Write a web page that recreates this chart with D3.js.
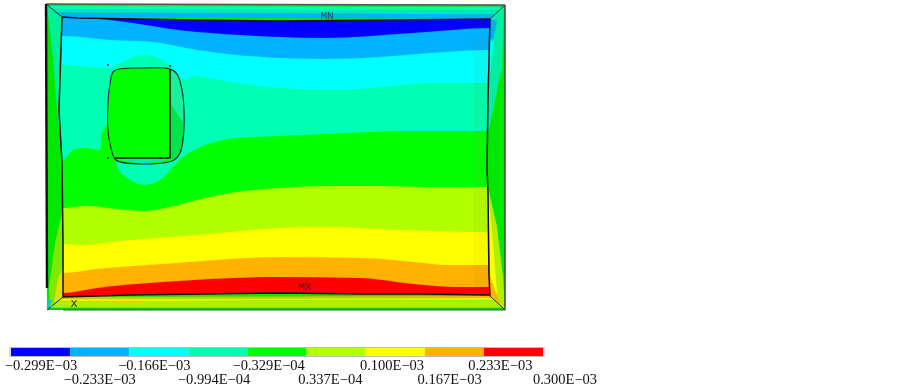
<!DOCTYPE html>
<html>
<head>
<meta charset="utf-8">
<script src="https://cdn.jsdelivr.net/npm/d3@7"></script>
<style>
  html, body { margin: 0; padding: 0; background: #fff; }
  svg { display: block; filter: blur(0.3px); }
</style>
</head>
<body>
<div id="vis-holder"></div>
<script>
// contour levels, low to high
let LEVEL_COLORS = ["#0000ff","#00b2ff","#00ffff","#00ffb2","#00ff00","#b2ff00","#ffff00","#ffb200","#ff0000"]
let ROW_ONE = ["\u22120.299E\u221203","\u22120.166E\u221203","\u22120.329E\u221204","0.100E\u221203","0.233E\u221203"]
let ROW_TWO = ["\u22120.233E\u221203","\u22120.994E\u221204","0.337E\u221204","0.167E\u221203","0.300E\u221203"]
// small horizontal shifts of the colour bar labels
let ROW_ONE_NUDGE = [0,-4,-7,-1,-10]
let ROW_TWO_NUDGE = [0,-3,-4,-2,-4]

// contour boundaries, [x, y] from the plate's top left corner
let level0to1 = [[0,0],[15,0],[134,14],[217,19],[259,20],[350,15],[427,10]]
let level1to2 = [[0,18],[47,22],[90,24],[134,32],[217,40],[260,41],[317,39],[367,35],[427,32]]
let level2to3 = [[0,47],[47,50],[57,45],[80,37],[107,47],[122,62],[130,58],[167,64],[217,70],[274,72],[317,69],[367,65],[427,65]]
let level3to4 = [[0,142],[10,132],[22,130],[37,132],[39,115],[45,107],[54,149],[64,160],[82,167],[100,160],[110,149],[120,139],[174,120],[217,118],[284,115],[350,113],[427,113]]
let level4to5 = [[0,190],[24,188],[54,191],[82,193],[107,189],[134,182],[167,175],[217,170],[267,168],[317,168],[367,169],[427,169]]
let level5to6 = [[0,226],[17,227],[67,222],[134,217],[217,210],[260,209],[317,211],[367,213],[427,214]]
let level6to7 = [[0,255],[34,251],[100,246],[217,239],[300,240],[350,244],[384,247],[427,247]]
let level7to8 = [[0,275],[34,270],[100,264],[217,259],[297,260],[350,266],[394,269],[427,269]]

// deformed outline of the plate and of the opening
let plateEdge = [[-1,-1],[15,0],[134,2],[217,3],[327,2],[427,1],[425,82],[424,149],[425,175],[426,259],[427,277],[360,276],[300,276],[217,275],[67,277],[0,279],[0,225],[-1,145],[-4,92]]
let holeEdge = [[51,53],[80,50],[107,51],[114,56],[119,72],[121,92],[120,122],[117,135],[111,142],[80,146],[53,142],[48,130],[45,112],[45,85],[47,66]]
let holeSide = [[107,51],[107,140]]
let holeBottom = [[51,140],[107,140]]
let holeSliverTop = [[107,51],[114,56],[119,72],[121,92],[120,105],[107,85]]
let holeSliverLow = [[107,85],[120,105],[120,122],[117,135],[111,142],[107,141]]
let holeSliverFoot = [[53,141],[111,141],[80,146]]
let holeDots = [[45,47],[107,48],[45,140]]

// the sloped frame round the plate
let outerCorners = [[-17,-14],[442,-13],[442,292],[-16,292]]
let innerCorners = [[-1,-1],[427,1],[427,278],[0,279]]
let topStops = [0,0.16,0.4,0.66,1]
let topLevels = ["#00e84a","#00ffb2","#00e6c4","#00b2ff"]
let bottomStops = [0,0.14,0.32,0.8,1]
let bottomLevels = ["#ffb200","#f4ee00","#b2ee00","#9fe800"]
let leftTeal = [[-16,-13],[-1,-1],[-3,60],[-4,92],[-2,135],[-6,90],[-10,40]]
let leftLime = [[0,190],[0,279],[-13,289],[-14,270],[-8,225]]
let leftOrange = [[0,250],[0,279],[-9,285],[-5,260]]
let rightTeal = [[441,-13],[427,1],[425,82],[425,115],[430,92],[439,49]]
let rightCyan = [[427,1],[432,14],[426,65],[425,65]]
let rightBlue = [[427,1],[434,3],[430,24],[427,20]]
let rightLime = [[425,169],[434,209],[440,259],[442,292],[427,278]]
let rightYellow = [[425,175],[430,225],[434,275],[428,277]]
let rightOrange = [[426,255],[433,275],[438,288],[427,278]]

// set the dimensions of the picture
var width = 903, height = 388;
var svg = d3.select("#vis-holder")
  .append("svg")
    .attr("width", width)
    .attr("height", height);

var x = d3.scaleLinear().domain([0, 427]).range([63, 490]);
var y = d3.scaleLinear().domain([0, 278]).range([18, 296]);

var shape = d3.line().x(d => x(d[0])).y(d => y(d[1]));
var poly = d => shape(d) + "Z";

function addPoly(parent, pts, color) {
  return parent.append("path").attr("d", poly(pts)).attr("fill", color);
}

// frame
var frame = svg.append("g");
addPoly(frame, outerCorners, "#00ee00");

function between(a, b, t) { return [a[0] + (b[0] - a[0]) * t, a[1] + (b[1] - a[1]) * t]; }
function strip(stops, colors, outerA, outerB, innerA, innerB) {
  colors.forEach((c, i) => {
    addPoly(frame, [
      between(outerA, innerA, stops[i]), between(outerB, innerB, stops[i]),
      between(outerB, innerB, stops[i + 1]), between(outerA, innerA, stops[i + 1])
    ], c);
  });
}
strip(topStops, topLevels, outerCorners[0], outerCorners[1], innerCorners[0], innerCorners[1]);
strip(bottomStops, bottomLevels, innerCorners[3], innerCorners[2], outerCorners[3], outerCorners[2]);
addPoly(frame, [[-16,292],[442,292],[442,290],[-16,290]], "#12c81a");

// side walls
var wallGreen = "#00e800";
addPoly(frame, [outerCorners[0], innerCorners[0], [-4,92], innerCorners[3], outerCorners[3]], wallGreen);
addPoly(frame, leftTeal, "#00f09a");
addPoly(frame, leftLime, "#7ee800");
addPoly(frame, leftOrange, "#e6e000");
addPoly(frame, [outerCorners[1], innerCorners[1], [424,149], innerCorners[2], outerCorners[2]], wallGreen);
addPoly(frame, rightTeal, "#00eea0");
addPoly(frame, rightCyan, "#00ffee");
addPoly(frame, rightBlue, "#00b2e8");
addPoly(frame, rightLime, "#b2ee00");
addPoly(frame, rightYellow, "#ffff00");
addPoly(frame, rightOrange, "#ffb200");

// contour bands, painted from the highest level up
svg.append("clipPath").attr("id", "plate-clip")
  .append("path").attr("d", poly(plateEdge));
var bands = svg.append("g").attr("clip-path", "url(#plate-clip)");
var edges = [level0to1, level1to2, level2to3, level3to4, level4to5, level5to6, level6to7, level7to8];

var area = d3.area()
  .x(d => x(d[0]))
  .y0(y(-10))
  .y1(d => y(d[1]))
  .curve(d3.curveMonotoneX);

bands.append("rect")
  .attr("x", x(-10)).attr("y", y(-10))
  .attr("width", x(440) - x(-10)).attr("height", y(300) - y(-10))
  .attr("fill", LEVEL_COLORS[8]);

d3.range(edges.length - 1, -1, -1).forEach(i => {
  var e = edges[i];
  bands.append("path")
    .attr("d", area([[-10, e[0][1]]].concat(e, [[440, e[e.length - 1][1]]])))
    .attr("fill", LEVEL_COLORS[i]);
});

// slightly muted colours next to the right wall
bands.append("rect")
  .attr("x", x(410)).attr("y", y(20))
  .attr("width", x(430) - x(410)).attr("height", y(270) - y(20))
  .attr("fill", "#7a7a40").attr("opacity", 0.07);

// opening
var smooth = d3.line().x(d => x(d[0])).y(d => y(d[1])).curve(d3.curveCatmullRomClosed);
var hole = svg.append("g");
hole.append("path").attr("d", smooth(holeEdge)).attr("fill", LEVEL_COLORS[4]);
addPoly(hole, holeSliverTop, "#18f09c");
addPoly(hole, holeSliverLow, "#00e44c");
addPoly(hole, holeSliverFoot, "#00eca8");

hole.append("path").attr("d", smooth(holeEdge))
  .attr("fill", "none").attr("stroke", "#123").attr("stroke-width", 1.1);
[holeSide, holeBottom].forEach(seg => {
  hole.append("path").attr("d", shape(seg))
    .attr("fill", "none").attr("stroke", "#0a0a0a").attr("stroke-width", 1.7);
});
hole.selectAll("circle")
  .data(holeDots)
  .enter()
  .append("circle")
    .attr("cx", d => x(d[0]))
    .attr("cy", d => y(d[1]))
    .attr("r", 0.9)
    .attr("fill", "#111");

// outlines
var lines = svg.append("g").attr("fill", "none");
lines.append("path").attr("d", poly(plateEdge))
  .attr("stroke", "#111").attr("stroke-width", 1.5);
outerCorners.forEach((c, i) => {
  lines.append("path").attr("d", shape([c, innerCorners[i]]))
    .attr("stroke", "#2a3a2a").attr("stroke-width", 1);
});
lines.append("path").attr("d", shape([outerCorners[0], outerCorners[1]])).attr("stroke", "#555").attr("stroke-width", 1.5);
lines.append("path").attr("d", shape([outerCorners[1], outerCorners[2]])).attr("stroke", "#444").attr("stroke-width", 1.5);
lines.append("path").attr("d", shape([outerCorners[2], [0,292]])).attr("stroke", "#1a7a2a").attr("stroke-width", 1.2);
lines.append("path").attr("d", shape([outerCorners[0], [-16,270]])).attr("stroke", "#111").attr("stroke-width", 2.4);

// labels on the model
var modelFont = "'Liberation Mono', monospace";
svg.append("text").attr("x", x(264)).attr("y", y(1)).attr("text-anchor", "middle")
  .attr("font-family", modelFont).attr("font-size", 11).attr("fill", "#1d4d63").text("MN");
svg.append("text").attr("x", x(242)).attr("y", y(272)).attr("text-anchor", "middle")
  .attr("font-family", modelFont).attr("font-size", 11).attr("fill", "#4a1010").text("MX");
svg.append("text").attr("x", x(11)).attr("y", y(289)).attr("text-anchor", "middle")
  .attr("font-family", modelFont).attr("font-size", 11).attr("fill", "#222").text("X");
svg.append("text").attr("x", x(-13.5)).attr("y", y(289)).attr("text-anchor", "middle")
  .attr("font-family", modelFont).attr("font-size", 11).attr("font-weight", "bold").attr("fill", "#10c0f0").text("Z");

// colour bar
var bar = d3.scaleBand().domain(d3.range(LEVEL_COLORS.length)).range([11, 543]);
var legend = svg.append("g");
legend.append("rect")
  .attr("x", 10).attr("y", 347.5).attr("width", 534).attr("height", 9)
  .attr("fill", "none").attr("stroke", "#bbb").attr("stroke-width", 1);
legend.selectAll("rect.level")
  .data(LEVEL_COLORS)
  .enter()
  .append("rect")
    .attr("class", "level")
    .attr("x", (d, i) => bar(i))
    .attr("y", 348)
    .attr("width", bar.bandwidth())
    .attr("height", 8)
    .attr("fill", d => d);

// the labels alternate over two rows
var labelX = d3.scalePoint().domain(d3.range(10)).range([41, 569]);
function row(labels, nudges, first, baseline) {
  legend.selectAll("text.r" + first)
    .data(labels)
    .enter()
    .append("text")
      .attr("class", "r" + first)
      .attr("x", (d, i) => labelX(first + i * 2) + nudges[i])
      .attr("y", baseline)
      .attr("text-anchor", "middle")
      .attr("font-family", "'Liberation Serif', serif")
      .attr("font-size", 14.5)
      .attr("fill", "#111")
      .text(d => d);
}
row(ROW_ONE, ROW_ONE_NUDGE, 0, 370);
row(ROW_TWO, ROW_TWO_NUDGE, 1, 384);
</script>
</body>
</html>
